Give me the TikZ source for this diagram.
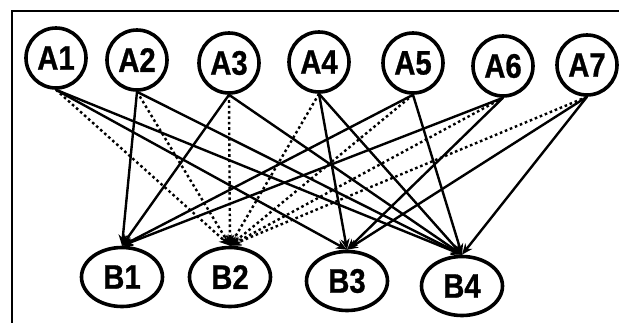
\documentclass[tikz,border=0pt]{standalone}
\usepackage{fontspec}
\newfontfamily\nodefont[FakeStretch=0.86,FakeBold=0.8]{Liberation Sans Bold}
\usetikzlibrary{shapes.geometric,arrows.meta}

\begin{document}
\begin{tikzpicture}[x=1pt,y=-1pt,
  anode/.style={circle,draw,line width=3.6pt,minimum size=60pt,inner sep=0pt,
    font=\nodefont\fontsize{34}{34}\selectfont},
  bnode/.style={ellipse,draw,line width=3.6pt,minimum width=81pt,minimum height=59pt,inner sep=0pt,
    font=\nodefont\fontsize{34}{34}\selectfont},
  link/.style={line width=2.4pt,-{Stealth[length=11pt,width=9pt]}},
  dotlink/.style={link,dash pattern=on 2.6pt off 2.8pt}]
\useasboundingbox (0,0) rectangle (619,322);
\draw[line width=2.8pt] (12,340) -- (12,11) -- (640,11);
\node[anode] (a1) at (56,58) {A1};
\node[anode] (a2) at (137,60) {A2};
\node[anode] (a3) at (229,63) {A3};
\node[anode] (a4) at (319,62) {A4};
\node[anode] (a5) at (413,63) {A5};
\node[anode] (a6) at (503,66) {A6};
\node[anode] (a7) at (587,65) {A7};
\node[bnode] (b1) at (122,277) {B1};
\node[bnode] (b2) at (230,277) {B2};
\node[bnode] (b3) at (347,281) {B3};
\node[bnode] (b4) at (462,286) {B4};
\foreach \a in {a1,a2,a3,a4,a5,a6,a7}
  \draw[dotlink] (\a.south) -- (b2.north);
\foreach \a/\b in {a2/b1,a3/b1,a5/b1,a6/b1,
                   a1/b3,a4/b3,a6/b3,a7/b3,
                   a1/b4,a2/b4,a3/b4,a4/b4,a5/b4,a7/b4}
  \draw[link] (\a.south) -- (\b.north);
\end{tikzpicture}
\end{document}
